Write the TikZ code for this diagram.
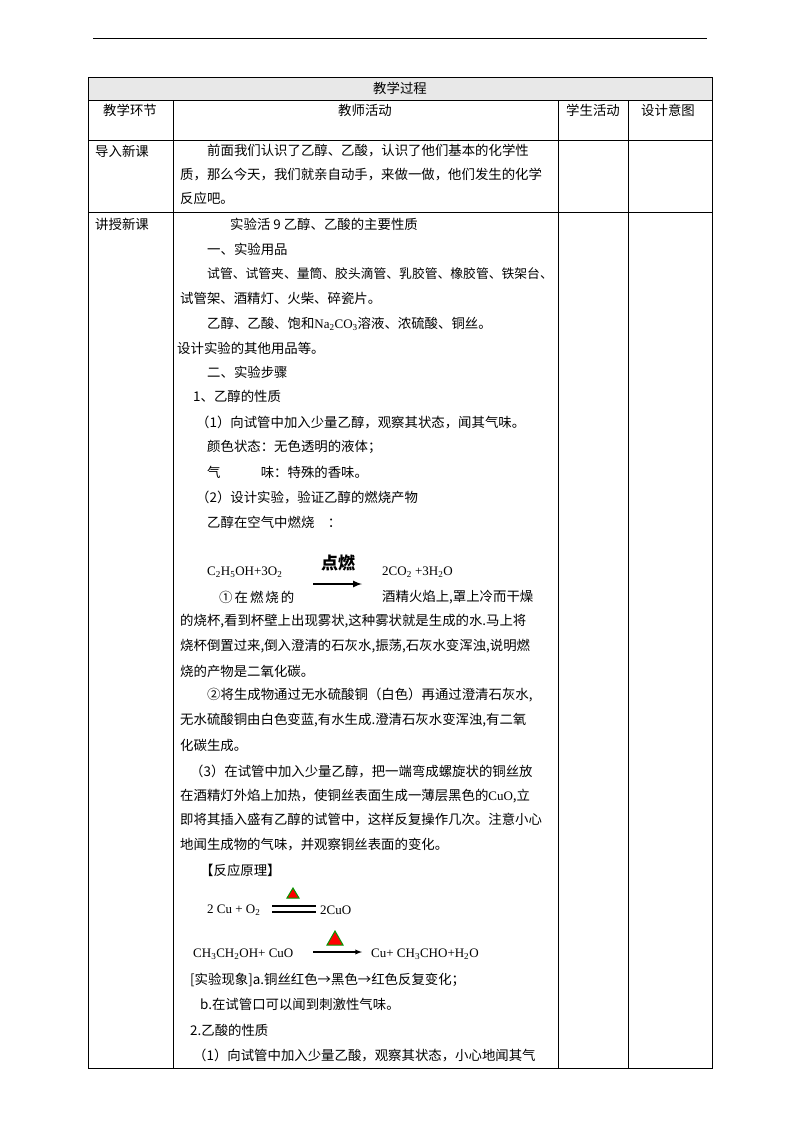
\documentclass[tikz,border=0pt]{standalone}
\usepackage{fontspec}
\setmainfont{Liberation Serif}
\newfontfamily\cjk{Noto Sans CJK SC}
\newcommand{\zh}{\cjk\fontsize{13.4}{15}\selectfont}
\newcommand{\fm}{\rmfamily\fontsize{13}{15}\selectfont}
\begin{document}
\begin{tikzpicture}[x=1pt,y=-1pt,
 t/.style={anchor=west,inner sep=0pt,font=\zh},
 f/.style={anchor=west,inner sep=0pt,font=\fm},
 c/.style={anchor=center,inner sep=0pt,font=\zh},
 rule/.style={line width=0.6pt},
 heat/.style={fill=red,draw=green!60!black,line width=1pt}]
\useasboundingbox (0,0) rectangle (800,1132);
\draw[line width=0.8pt] (93,38) -- (707,38);
\fill[gray!18] (88,77) rectangle (712,100);
\draw[rule] (88,77) rectangle (712,1068);
\draw[rule] (88,100) -- (712,100);
\draw[rule] (88,140) -- (712,140);
\draw[rule] (88,212) -- (712,212);
\draw[rule] (173,100) -- (173,1068);
\draw[rule] (558,100) -- (558,1068);
\draw[rule] (628,100) -- (628,1068);
\node[c] (h0) at (400,88) {教学过程};
\node[c] (h1) at (130,110) {教学环节};
\node[c] (h2) at (365,110) {教师活动};
\node[c] (h3) at (593,110) {学生活动};
\node[c] (h4) at (668,110) {设计意图};
\node[t] (r1) at (95,151) {导入新课};
\node[t] (r2) at (95,224) {讲授新课};
\node[t] (a1) at (207,151) {前面我们认识了乙醇、乙酸，认识了他们基本的化学性};
\node[t] (a2) at (180,175) {质，那么今天，我们就亲自动手，来做一做，他们发生的化学};
\node[t] (a3) at (180,198) {反应吧。};
\node[t] (b1) at (230,224) {实验活 9 乙醇、乙酸的主要性质};
\node[t] (b2) at (207,249) {一、实验用品};
\node[t,font=\cjk\fontsize{12.8}{15}\selectfont] (b3) at (207,274) {试管、试管夹、量筒、胶头滴管、乳胶管、橡胶管、铁架台、};
\node[t] (b4) at (180,298) {试管架、酒精灯、火柴、碎瓷片。};
\node[t] (b5) at (207,324) {乙醇、乙酸、饱和{\fm Na\textsubscript{2}CO\textsubscript{3}}溶液、浓硫酸、铜丝。};
\node[t] (b6) at (177,348) {设计实验的其他用品等。};
\node[t] (b7) at (207,372) {二、实验步骤};
\node[t] (b8) at (193,396) {1、乙醇的性质};
\node[t] (b9) at (196,422) {（1）向试管中加入少量乙醇，观察其状态，闻其气味。};
\node[t] (b10) at (207,447) {颜色状态：无色透明的液体；};
\node[t] (b11) at (207,472) {气\hspace{3em}味：特殊的香味。};
\node[t] (b12) at (196,497) {（2）设计实验，验证乙醇的燃烧产物};
\node[t] (b13) at (207,522) {乙醇在空气中燃烧\quad ：};
\node[f] (e1l) at (207,572) {C\textsubscript{2}H\textsubscript{5}OH+3O\textsubscript{2}};
\node[anchor=center,inner sep=0pt,font=\cjk\bfseries\fontsize{17}{19}\selectfont] (e1c) at (338,563) {点燃};
\coordinate (e1a) at (313,584);
\coordinate (e1b) at (362,584);
\draw[line width=2pt,-latex] (e1a) -- (e1b);
\node[f] (e1r) at (382,572) {2CO\textsubscript{2} +3H\textsubscript{2}O};
\node[t] (c1) at (219,597) {①\hspace{0.15em}在\hspace{0.15em}燃\hspace{0.15em}烧\hspace{0.15em}的};
\node[t] (c1b) at (382,597) {酒精火焰上,罩上冷而干燥};
\node[t] (c2) at (180,621) {的烧杯,看到杯壁上出现雾状,这种雾状就是生成的水.马上将};
\node[t] (c3) at (180,646) {烧杯倒置过来,倒入澄清的石灰水,振荡,石灰水变浑浊,说明燃};
\node[t] (c4) at (180,671) {烧的产物是二氧化碳。};
\node[t] (c5) at (207,695) {②将生成物通过无水硫酸铜（白色）再通过澄清石灰水,};
\node[t] (c6) at (180,720) {无水硫酸铜由白色变蓝,有水生成.澄清石灰水变浑浊,有二氧};
\node[t] (c7) at (180,745) {化碳生成。};
\node[t] (d1) at (190,771) {（3）在试管中加入少量乙醇，把一端弯成螺旋状的铜丝放};
\node[t] (d2) at (180,796) {在酒精灯外焰上加热，使铜丝表面生成一薄层黑色的{\fm CuO},立};
\node[t] (d3) at (180,820) {即将其插入盛有乙醇的试管中，这样反复操作几次。注意小心};
\node[t] (d4) at (180,845) {地闻生成物的气味，并观察铜丝表面的变化。};
\node[t] (d5) at (200,870) {【反应原理】};
\node[f] (e2l) at (207,910) {2 Cu + O\textsubscript{2}};
\draw[line width=1.3pt] (272,906) -- (316,906) (272,912) -- (316,912);
\draw[heat] (287,898) -- (299,898) -- (293,888) -- cycle;
\node[f] (e2r) at (320,910) {2CuO};
\node[f] (e3l) at (193,954) {CH\textsubscript{3}CH\textsubscript{2}OH+ CuO};
\coordinate (e3a) at (313,952);
\coordinate (e3b) at (362,952);
\draw[line width=1.3pt,-latex] (e3a) -- (e3b);
\draw[heat] (327,945) -- (343,945) -- (335,931) -- cycle;
\node[f] (e3r) at (371,954) {Cu+ CH\textsubscript{3}CHO+H\textsubscript{2}O};
\node[t] (g1) at (190,980) {[实验现象]a.铜丝红色→黑色→红色反复变化；};
\node[t] (g2) at (200,1004) {b.在试管口可以闻到刺激性气味。};
\node[t] (g3) at (190,1030) {2.乙酸的性质};
\node[t] (g4) at (193,1055) {（1）向试管中加入少量乙酸，观察其状态，小心地闻其气};
\end{tikzpicture}
\end{document}
